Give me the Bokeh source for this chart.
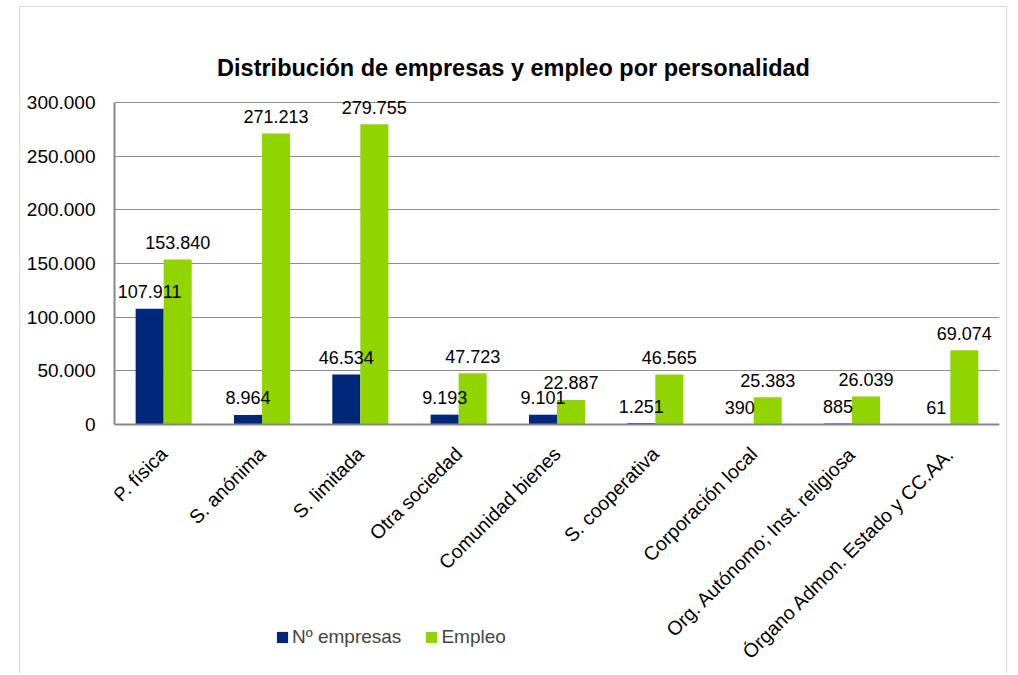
from bokeh.plotting import figure
from bokeh.models import (ColumnDataSource, FactorRange, Range1d, FixedTicker, Legend, LegendItem, Label, Span)
from bokeh.transform import dodge
from bokeh.core.properties import value
from bokeh.embed import file_html
from bokeh.resources import INLINE
from math import pi

categories = ["P. física", "S. anónima", "S. limitada", "Otra sociedad", "Comunidad bienes",
              "S. cooperativa", "Corporación local", "Org. Autónomo; Inst. religiosa",
              "Órgano Admon. Estado y CC.AA."]
empresas = [107911, 8964, 46534, 9193, 9101, 1251, 390, 885, 61]
empleo = [153840, 271213, 279755, 47723, 22887, 46565, 25383, 26039, 69074]
y_ticks = [0, 50000, 100000, 150000, 200000, 250000, 300000]
title_text = "Distribución de empresas y empleo por personalidad"
series_names = ["Nº empresas", "Empleo"]

def fmt(v):
    return f"{v:,}".replace(",", ".")

FONT = "Liberation Sans"
BLUE = "#00287A"
GREEN = "#92D400"

# layout geometry (screen px)
FIG_H = 667
FRAME_TOP = 7          # page y of frame top
ZERO_Y = 424           # page y of value 0
TOP_Y = 102            # page y of value 300000
px_per_unit = (ZERO_Y - TOP_Y) / y_ticks[-1]
y_end = y_ticks[-1] + (TOP_Y - FRAME_TOP) / px_per_unit
y_start = -((FRAME_TOP + FIG_H) - ZERO_Y) / px_per_unit

src = ColumnDataSource(dict(
    cat=categories, emp=empresas, empl=empleo,
    zero=[0] * len(categories),
    emp_lbl=[fmt(v) for v in empresas], empl_lbl=[fmt(v) for v in empleo],
))

p = figure(x_range=FactorRange(*categories, range_padding=0),
           y_range=Range1d(y_start, y_end),
           width=988, height=FIG_H, output_backend="svg", toolbar_location=None,
           min_border_left=94, min_border_right=9, min_border_top=0, min_border_bottom=0)
p.styles = {"border-left": "1px solid #d9d9d9", "border-right": "1px solid #d9d9d9",
            "border-top": "1px solid #d9d9d9", "margin-left": "19px", "margin-top": "6px"}
p.outline_line_color = None
p.background_fill_color = "white"
p.border_fill_color = "white"

off = 0.1425
w = 0.285
r1 = p.vbar(x=dodge("cat", -off, range=p.x_range), top="emp", width=w, source=src,
            fill_color=BLUE, line_color=None)
r2 = p.vbar(x=dodge("cat", off, range=p.x_range), top="empl", width=w, source=src,
            fill_color=GREEN, line_color=None)

p.text(x=dodge("cat", -off, range=p.x_range), y="emp", text="emp_lbl", source=src,
       text_align="center", text_baseline="middle", y_offset=-17,
       text_font=value(FONT), text_font_size="18px", text_color="#000000")
p.text(x=dodge("cat", off, range=p.x_range), y="empl", text="empl_lbl", source=src,
       text_align="center", text_baseline="middle", y_offset=-17,
       text_font=value(FONT), text_font_size="18px", text_color="#000000")

# category labels (rotated), below the baseline
p.text(x="cat", y="zero", text="cat", source=src, angle=pi / 4,
       text_align="right", text_baseline="middle", x_offset=0, y_offset=26,
       text_font=value(FONT), text_font_size="19.5px", text_color="#000000")

# baseline
p.add_layout(Span(location=0, dimension="width", line_color="#888888", line_width=2))

# y axis
p.yaxis.ticker = FixedTicker(ticks=y_ticks)
p.yaxis.bounds = (y_ticks[0], y_ticks[-1])
p.yaxis.major_label_overrides = {t: fmt(t) for t in y_ticks}
p.yaxis.major_tick_in = 0
p.yaxis.major_tick_out = 0
p.yaxis.minor_tick_line_color = None
p.yaxis.axis_line_color = "#888888"
p.yaxis.axis_line_width = 2
p.yaxis.major_label_text_font = FONT
p.yaxis.major_label_text_font_size = "19px"
p.yaxis.major_label_text_color = "#000000"
p.yaxis.major_label_standoff = 19

p.xaxis.visible = False
p.xgrid.grid_line_color = None
p.ygrid.ticker = FixedTicker(ticks=y_ticks)
p.ygrid.grid_line_color = "#8c8c8c"
p.ygrid.grid_line_width = 1

# title (screen units relative to frame bottom-left)
p.add_layout(Label(x=513 - 114, y=(FRAME_TOP + FIG_H) - 67, x_units="screen", y_units="screen",
                   text=title_text, text_align="center", text_baseline="middle",
                   text_font=FONT, text_font_size="23.5px", text_font_style="bold",
                   text_color="#000000"))

legend = Legend(items=[LegendItem(label=series_names[0], renderers=[r1]),
                       LegendItem(label=series_names[1], renderers=[r2])],
                location=(161, (FRAME_TOP + FIG_H) - 648), orientation="horizontal",
                label_text_font=FONT, label_text_font_size="19px",
                glyph_width=14, glyph_height=14, label_standoff=3, spacing=23,
                padding=0, margin=0, border_line_color=None, background_fill_alpha=0,
                label_height=20)
p.add_layout(legend, "center")

open("out.html", "w").write(file_html(p, INLINE))
